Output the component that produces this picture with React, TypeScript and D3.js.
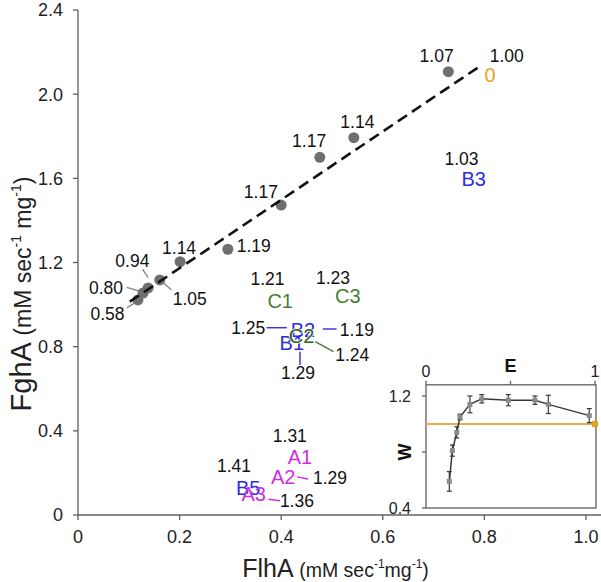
import React from "react";
import * as d3 from "d3";

// ---------- main scatter data ----------
const dotFlhA = [0.729, 0.543, 0.476, 0.4, 0.295, 0.201, 0.161, 0.138, 0.128, 0.118];
const dotFghA = [2.107, 1.793, 1.7, 1.473, 1.263, 1.204, 1.117, 1.079, 1.055, 1.022];

// regression (dashed) line end points
const fitFlhA = [0.102, 0.795];
const fitFghA = [1.014, 2.139];

// annotation labels (anchored in data coordinates)
const labelText = [
  "1.07", "1.00", "0", "1.03", "B3", "1.14", "1.17", "1.17", "1.19", "1.14",
  "0.94", "0.80", "0.58", "1.05", "1.21", "C1", "1.23", "C3", "1.25", "B2",
  "1.19", "B1", "C2", "1.24", "1.29", "1.31", "A1", "1.41", "A2", "1.29",
  "B5", "A3", "1.36",
];
const labelFlhA = [
  0.706, 0.844, 0.811, 0.755, 0.779, 0.55, 0.455, 0.36, 0.346, 0.199,
  0.107, 0.055, 0.058, 0.22, 0.373, 0.398, 0.502, 0.531, 0.335, 0.443,
  0.549, 0.421, 0.44, 0.54, 0.433, 0.417, 0.437, 0.307, 0.404, 0.496,
  0.335, 0.346, 0.431,
];
const labelFghA = [
  2.184, 2.184, 2.091, 1.692, 1.597, 1.869, 1.779, 1.537, 1.28, 1.271,
  1.207, 1.081, 0.955, 1.027, 1.122, 1.018, 1.129, 1.042, 0.889, 0.879,
  0.879, 0.817, 0.851, 0.76, 0.677, 0.377, 0.277, 0.233, 0.182, 0.178,
  0.128, 0.1, 0.068,
];
const labelGroup = [
  "v", "v", "wt", "v", "B", "v", "v", "v", "v", "v",
  "v", "v", "v", "v", "v", "C", "v", "C", "v", "B",
  "v", "B", "C2", "v", "v", "v", "A", "v", "A", "v",
  "B", "A", "v",
];

// leader lines
const leadX1 = [0.127, 0.096, 0.096, 0.184, 0.371, 0.482, 0.467, 0.437, 0.431, 0.375];
const leadY1 = [1.169, 1.082, 0.984, 1.069, 0.89, 0.884, 0.824, 0.776, 0.181, 0.075];
const leadX2 = [0.138, 0.125, 0.116, 0.168, 0.411, 0.509, 0.503, 0.437, 0.453, 0.398];
const leadY2 = [1.128, 1.061, 1.014, 1.104, 0.89, 0.884, 0.776, 0.713, 0.171, 0.068];
const leadGroup = ["g", "g", "g", "g", "B", "B", "C", "B", "A", "A"];

const xTicks = [0, 0.2, 0.4, 0.6, 0.8, 1.0];
const xTickLabels = ["0", "0.2", "0.4", "0.6", "0.8", "1.0"];
const yTicks = [0, 0.4, 0.8, 1.2, 1.6, 2.0, 2.4];
const yTickLabels = ["0", "0.4", "0.8", "1.2", "1.6", "2.0", "2.4"];

// ---------- inset data ----------
const insetE = [0.138, 0.156, 0.182, 0.201, 0.26, 0.33, 0.487, 0.645, 0.724, 0.966];
const insetW = [0.59, 0.81, 0.94, 1.05, 1.14, 1.18, 1.17, 1.17, 1.14, 1.06];
const insetErr = [0.07, 0.04, 0.04, 0.02, 0.06, 0.03, 0.04, 0.03, 0.065, 0.05];
const wtE = [1.0];
const wtW = [1.0];
const eTicks = [0, 0.5, 1];
const eTickLabels = ["0", "", "1"];
const wTicks = [0.4, 0.8, 1.2];
const wTickLabels = ["0.4", "", "1.2"];

const FONT = "'Liberation Sans', Arial, sans-serif";
const AXIS = "#5f5f5f";
const colors: Record<string, string> = {
  v: "#111111",
  wt: "#e8a31c",
  A: "#cc30dd",
  B: "#2d2ddf",
  C: "#4a7c36",
  C2: "#335e22",
  g: "#8a8a8a",
};

export default function App() {
  const x = d3.scaleLinear().domain([0, 1.03]).range([78, 601.2]);
  const y = d3.scaleLinear().domain([0, 2.4]).range([515, 10]);

  const ex = d3.scaleLinear().domain([0, 1]).range([426, 595]);
  const wy = d3.scaleLinear().domain([0.4, 1.28]).range([508, 384.8]);

  const fitLine = d3
    .line<number>()
    .x((_, i) => x(fitFlhA[i]))
    .y((_, i) => y(fitFghA[i]))(fitFlhA);

  const insetLine = d3
    .line<number>()
    .x((_, i) => ex(insetE[i]))
    .y((_, i) => wy(insetW[i]))(insetE);

  return (
    <svg
      width={601}
      height={582}
      style={{ position: "absolute", left: 0, top: 0, background: "#fff" }}
      fontFamily={FONT}
    >
      {/* y axis */}
      <line x1={x(0)} x2={x(0)} y1={y(0)} y2={y(2.4)} stroke={AXIS} strokeWidth={1.3} />
      {yTicks.map((t, i) => (
        <g key={"yt" + i}>
          <line x1={x(0) - 5} x2={x(0)} y1={y(t)} y2={y(t)} stroke={AXIS} strokeWidth={1.3} />
          <text x={x(0) - 15} y={y(t)} dy="0.36em" textAnchor="end" fontSize={18} fill="#222">
            {yTickLabels[i]}
          </text>
        </g>
      ))}
      {/* x axis */}
      <line x1={x(0)} x2={x(1.03)} y1={y(0)} y2={y(0)} stroke={AXIS} strokeWidth={1.3} />
      {xTicks.map((t, i) => (
        <g key={"xt" + i}>
          <line x1={x(t)} x2={x(t)} y1={y(0)} y2={y(0) + 5} stroke={AXIS} strokeWidth={1.3} />
          <text x={x(t)} y={y(0) + 28} textAnchor="middle" fontSize={18} fill="#222">
            {xTickLabels[i]}
          </text>
        </g>
      ))}

      {/* axis titles */}
      <text x={335.5} y={577} textAnchor="middle" fill="#222">
        <tspan fontSize={25}>FlhA </tspan>
        <tspan fontSize={19.5}>(mM sec</tspan>
        <tspan fontSize={12} dy={-9}>-1</tspan>
        <tspan fontSize={19.5} dy={9}>mg</tspan>
        <tspan fontSize={12} dy={-9}>-1</tspan>
        <tspan fontSize={19.5} dy={9}>)</tspan>
      </text>
      <text
        transform={`translate(31,294) rotate(-90)`}
        textAnchor="middle"
        fill="#222"
      >
        <tspan fontSize={29}>FghA </tspan>
        <tspan fontSize={23}>(mM sec</tspan>
        <tspan fontSize={14} dy={-10}>-1</tspan>
        <tspan fontSize={23} dy={10}> mg</tspan>
        <tspan fontSize={14} dy={-10}>-1</tspan>
        <tspan fontSize={23} dy={10}>)</tspan>
      </text>

      {/* leader lines */}
      {leadX1.map((_, i) => (
        <line
          key={"ld" + i}
          x1={x(leadX1[i])}
          y1={y(leadY1[i])}
          x2={x(leadX2[i])}
          y2={y(leadY2[i])}
          stroke={colors[leadGroup[i]]}
          strokeWidth={1.4}
        />
      ))}

      {/* dots */}
      {dotFlhA.map((v, i) => (
        <circle key={"d" + i} cx={x(v)} cy={y(dotFghA[i])} r={5.5} fill="#6f6f6f" />
      ))}

      {/* regression line */}
      <path d={fitLine || ""} fill="none" stroke="#111" strokeWidth={2.6} strokeDasharray="11,6" />

      {/* labels */}
      {labelText.map((t, i) => {
        const g = labelGroup[i];
        const big = g !== "v";
        const halo = g === "C2";
        return (
          <text
            key={"lb" + i}
            x={x(labelFlhA[i])}
            y={y(labelFghA[i])}
            dy="0.36em"
            textAnchor="middle"
            fontSize={big ? 20 : 17.5}
            fill={colors[g]}
            stroke={halo ? "#ffffff" : "none"}
            strokeWidth={halo ? 1.6 : 0}
            style={halo ? { paintOrder: "stroke" } : undefined}
          >
            {t}
          </text>
        );
      })}

      {/* inset */}
      <rect
        x={ex(0)}
        y={wy(1.28)}
        width={ex(1) - ex(0) + 1}
        height={wy(0.4) - wy(1.28)}
        fill="none"
        stroke={AXIS}
        strokeWidth={1.3}
      />
      {eTicks.map((t, i) => (
        <g key={"et" + i}>
          <line x1={ex(t)} x2={ex(t)} y1={wy(1.28)} y2={wy(1.28) - 4} stroke={AXIS} strokeWidth={1.3} />
          <text x={ex(t)} y={wy(1.28) - 8} textAnchor="middle" fontSize={16} fill="#222">
            {eTickLabels[i]}
          </text>
        </g>
      ))}
      <text x={ex(0.5)} y={wy(1.28) - 13} textAnchor="middle" fontSize={18} fontWeight="bold" fill="#111">
        E
      </text>
      {wTicks.map((t, i) => (
        <g key={"wt" + i}>
          <line x1={ex(0) - 4} x2={ex(0)} y1={wy(t)} y2={wy(t)} stroke={AXIS} strokeWidth={1.3} />
          <text x={ex(0) - 15} y={wy(t)} dy="0.36em" textAnchor="end" fontSize={16} fill="#222">
            {wTickLabels[i]}
          </text>
        </g>
      ))}
      <text
        transform={`translate(${ex(0) - 15},${wy(0.8)}) rotate(-90)`}
        textAnchor="middle"
        fontSize={18}
        fontWeight="bold"
        fill="#111"
      >
        W
      </text>
      <line x1={ex(0)} x2={ex(1)} y1={wy(1.0)} y2={wy(1.0)} stroke="#e8b048" strokeWidth={2} />
      <path d={insetLine || ""} fill="none" stroke="#3a3a3a" strokeWidth={1.5} />
      {insetE.map((e, i) => (
        <g key={"ie" + i}>
          <line x1={ex(e)} x2={ex(e)} y1={wy(insetW[i] - insetErr[i])} y2={wy(insetW[i] + insetErr[i])} stroke="#3a3a3a" strokeWidth={1.2} />
          <line x1={ex(e) - 2.5} x2={ex(e) + 2.5} y1={wy(insetW[i] - insetErr[i])} y2={wy(insetW[i] - insetErr[i])} stroke="#3a3a3a" strokeWidth={1.2} />
          <line x1={ex(e) - 2.5} x2={ex(e) + 2.5} y1={wy(insetW[i] + insetErr[i])} y2={wy(insetW[i] + insetErr[i])} stroke="#3a3a3a" strokeWidth={1.2} />
          <rect x={ex(e) - 2.5} y={wy(insetW[i]) - 2.5} width={5} height={5} fill="#8a8a8a" />
        </g>
      ))}
      {wtE.map((e, i) => (
        <rect key={"wt" + i} x={ex(e) - 3} y={wy(wtW[i]) - 3} width={6} height={6} fill="#e8a31c" />
      ))}
    </svg>
  );
}
